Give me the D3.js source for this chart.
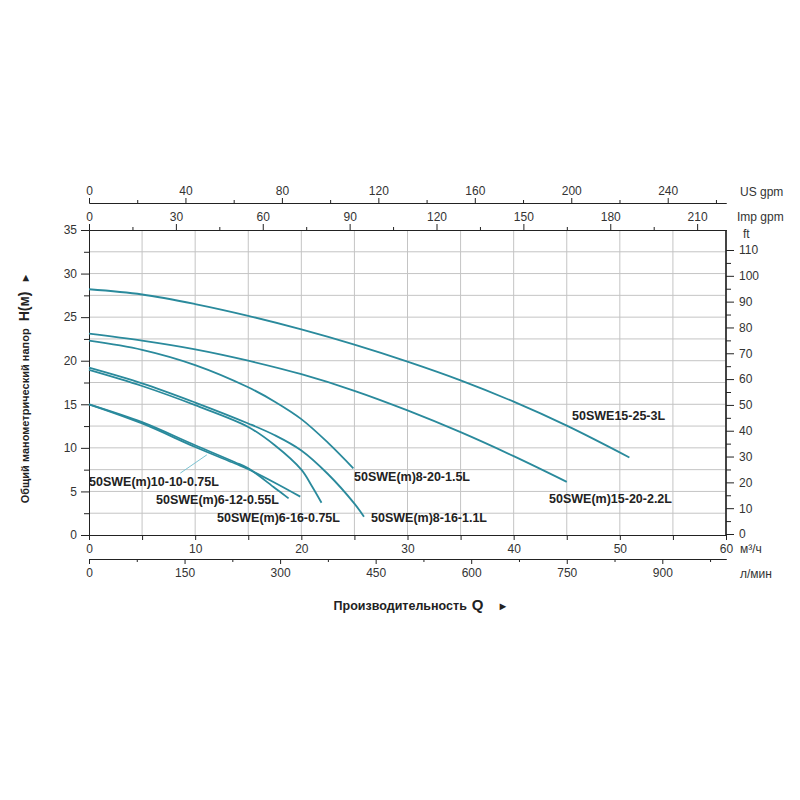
<!DOCTYPE html>
<html>
<head>
<meta charset="utf-8">
<script src="https://cdn.jsdelivr.net/npm/d3@7"></script>
<style>
  body { margin: 0; background: #fff; }
  text { font-family: "Liberation Sans", Arial, sans-serif; }
</style>
</head>
<body>
<script>
// pump curves, Q in m3/h, H in m
var q_15_25 = [0, 5, 10, 15, 20, 25, 30, 35, 40, 45, 50.9];
var h_15_25 = [28.2, 27.6, 26.5, 25.15, 23.6, 21.85, 19.9, 17.75, 15.3, 12.55, 8.9];

var q_15_20 = [0, 5, 10, 15, 20, 25, 30, 35, 40, 45];
var h_15_20 = [23.1, 22.3, 21.3, 20.0, 18.45, 16.55, 14.3, 11.8, 9.05, 6.1];

var q_8_20 = [0, 5, 10, 15, 17.5, 20, 22.5, 24.9];
var h_8_20 = [22.3, 21.25, 19.5, 16.95, 15.3, 13.3, 10.6, 7.65];

var q_8_16 = [0, 5, 10, 15, 17.5, 20, 22.5, 25, 25.9];
var h_8_16 = [19.2, 17.4, 15.2, 12.8, 11.45, 9.7, 7.0, 3.6, 2.1];

var q_6_16 = [0, 5, 10, 15, 17.5, 20, 21, 21.9];
var h_6_16 = [18.95, 17.1, 14.9, 12.4, 10.3, 7.5, 5.6, 3.7];

var q_6_12 = [0, 5, 10, 13.75, 15, 17.5, 18.8];
var h_6_12 = [15.0, 12.95, 10.3, 8.35, 7.65, 5.4, 4.2];

var q_10_10 = [0, 5, 10, 13.75, 15, 17.5, 19.9];
var h_10_10 = [15.0, 12.8, 10.1, 8.2, 7.55, 6.0, 4.4];

var names = ["50SWE15-25-3L", "50SWE(m)15-20-2.2L", "50SWE(m)8-20-1.5L", "50SWE(m)8-16-1.1L",
             "50SWE(m)6-16-0.75L", "50SWE(m)6-12-0.55L", "50SWE(m)10-10-0.75L"];

// leader from the 10-10 label to its curve (Q, H)
var leaderQ = [8.6, 11.1];
var leaderH = [7.1, 9.2];

// axis ticks
var qTicks = [0, 10, 20, 30, 40, 50, 60];
var hTicks = [0, 5, 10, 15, 20, 25, 30, 35];
var ftTicks = [0, 10, 20, 30, 40, 50, 60, 70, 80, 90, 100, 110];
var lminTicks = [0, 150, 300, 450, 600, 750, 900];
var usTicks = [0, 40, 80, 120, 160, 200, 240];
var impTicks = [0, 30, 60, 90, 120, 150, 180, 210];

// unit conversions
var L_MIN = 1000 / 60, US_GPM = 4.40287, IMP_GPM = 3.66615;

var curves = [
  {name: names[0], q: q_15_25, h: h_15_25},
  {name: names[1], q: q_15_20, h: h_15_20},
  {name: names[2], q: q_8_20, h: h_8_20},
  {name: names[3], q: q_8_16, h: h_8_16},
  {name: names[4], q: q_6_16, h: h_6_16},
  {name: names[5], q: q_6_12, h: h_6_12},
  {name: names[6], q: q_10_10, h: h_10_10}
];

// label placement (pixels: left x, baseline y)
var labelPos = [[572, 420], [549, 503], [354, 481], [371, 522], [217, 522], [156, 504], [89, 486]];

var pLeft = 89, pRight = 726, pTop = 230, pBottom = 535;
var teal = "#2a8a9c";

var svg = d3.select("body").append("svg")
    .attr("width", 800)
    .attr("height", 800);

var x = d3.scaleLinear().domain([0, 60]).range([pLeft, pRight]);
var y = d3.scaleLinear().domain([0, 35]).range([pBottom, pTop]);
var xL = d3.scaleLinear().domain([0, 60 * L_MIN]).range([pLeft, pRight]);
var xUS = d3.scaleLinear().domain([0, 60 * US_GPM]).range([pLeft, pRight]);
var xImp = d3.scaleLinear().domain([0, 60 * IMP_GPM]).range([pLeft, pRight]);
// the printed ft scale is a little off the metre scale; follow the picture
var yFt = d3.scaleLinear().domain([0, 110]).range([534, 250]);

// grid
var grid = svg.append("g").attr("stroke", "#c4c4c4").attr("stroke-width", 1);
grid.selectAll("line.v")
    .data(d3.range(5, 60, 5))
    .enter().append("line")
    .attr("x1", function(d) { return x(d); })
    .attr("x2", function(d) { return x(d); })
    .attr("y1", pTop).attr("y2", pBottom);
grid.selectAll("line.h")
    .data(d3.range(2.5, 35, 2.5))
    .enter().append("line")
    .attr("y1", function(d) { return y(d); })
    .attr("y2", function(d) { return y(d); })
    .attr("x1", pLeft).attr("x2", pRight);

function styleAxis(g) {
  g.selectAll("path, line").attr("stroke", "#222");
  g.selectAll("text").attr("font-size", 12).attr("fill", "#333")
      .attr("font-family", "Liberation Sans, Arial, sans-serif");
}

// left H axis
svg.append("g").attr("transform", "translate(" + pLeft + ",0)")
    .call(d3.axisLeft(y).tickValues(d3.range(2.5, 35, 5)).tickSize(5).tickSizeOuter(0).tickFormat(""))
    .call(styleAxis);
svg.append("g").attr("transform", "translate(" + pLeft + ",0)")
    .call(d3.axisLeft(y).tickValues(hTicks).tickSize(8).tickSizeOuter(0).tickPadding(4))
    .call(styleAxis);

// right ft axis
svg.append("line")
    .attr("x1", pRight).attr("x2", pRight)
    .attr("y1", pTop).attr("y2", pBottom)
    .attr("stroke", "#444").attr("stroke-width", 2);
svg.append("g").attr("transform", "translate(" + pRight + ",0)")
    .call(d3.axisRight(yFt).tickValues(d3.range(5, 115, 10)).tickSize(5).tickSizeOuter(0).tickFormat(""))
    .call(styleAxis)
    .call(function(g) { g.select(".domain").remove(); });
svg.append("g").attr("transform", "translate(" + pRight + ",0)")
    .call(d3.axisRight(yFt).tickValues(ftTicks).tickSize(8).tickSizeOuter(0).tickPadding(5))
    .call(styleAxis)
    .call(function(g) { g.select(".domain").remove(); });

// bottom m3/h axis
svg.append("g").attr("transform", "translate(0," + pBottom + ")")
    .call(d3.axisBottom(x).tickValues(d3.range(0, 61, 5)).tickSize(5).tickSizeOuter(0).tickPadding(4)
      .tickFormat(function(d) { return d % 10 === 0 ? d : ""; }))
    .call(styleAxis);

// l/min axis
svg.append("g").attr("transform", "translate(0,559)")
    .call(d3.axisBottom(xL).tickValues(d3.range(75, 1000, 150)).tickSize(3).tickSizeOuter(0).tickFormat(""))
    .call(styleAxis);
svg.append("g").attr("transform", "translate(0,559)")
    .call(d3.axisBottom(xL).tickValues(lminTicks).tickSize(5).tickSizeOuter(0).tickPadding(4))
    .call(styleAxis);

// Imp gpm axis (top of the plot)
svg.append("g").attr("transform", "translate(0," + pTop + ")")
    .call(d3.axisTop(xImp).tickValues(d3.range(15, 220, 30)).tickSize(3).tickSizeOuter(0).tickFormat(""))
    .call(styleAxis);
svg.append("g").attr("transform", "translate(0," + pTop + ")")
    .call(d3.axisTop(xImp).tickValues(impTicks).tickSize(6).tickSizeOuter(0).tickPadding(3))
    .call(styleAxis);

// US gpm axis
svg.append("g").attr("transform", "translate(0,203)")
    .call(d3.axisTop(xUS).tickValues(d3.range(20, 264, 40)).tickSize(3).tickSizeOuter(0).tickFormat(""))
    .call(styleAxis);
svg.append("g").attr("transform", "translate(0,203)")
    .call(d3.axisTop(xUS).tickValues(usTicks).tickSize(5).tickSizeOuter(0).tickPadding(3))
    .call(styleAxis);

// unit labels
var units = [["US gpm", 740, 196], ["Imp gpm", 737, 221], ["ft", 743, 238], ["м³/ч", 740, 553], ["л/мин", 740, 578]];
svg.selectAll("text.unit")
    .data(units)
    .enter().append("text")
    .attr("class", "unit")
    .attr("x", function(d) { return d[1]; })
    .attr("y", function(d) { return d[2]; })
    .attr("font-size", 12)
    .attr("fill", "#333")
    .text(function(d) { return d[0]; });

// curves
var line = d3.line()
    .x(function(d) { return x(d[0]); })
    .y(function(d) { return y(d[1]); })
    .curve(d3.curveCatmullRom.alpha(0.5));

svg.selectAll("path.curve")
    .data(curves)
    .enter().append("path")
    .attr("class", "curve")
    .attr("fill", "none")
    .attr("stroke", teal)
    .attr("stroke-width", 1.8)
    .attr("d", function(c) { return line(d3.zip(c.q, c.h)); });

// leader line
svg.append("path")
    .attr("fill", "none")
    .attr("stroke", "#7cc3d2")
    .attr("stroke-width", 1)
    .attr("d", d3.line().x(function(d) { return x(d[0]); }).y(function(d) { return y(d[1]); })(d3.zip(leaderQ, leaderH)));

// curve labels
svg.selectAll("text.lbl")
    .data(curves)
    .enter().append("text")
    .attr("class", "lbl")
    .attr("x", function(c, i) { return labelPos[i][0]; })
    .attr("y", function(c, i) { return labelPos[i][1]; })
    .attr("font-size", 12.5)
    .attr("font-weight", "bold")
    .attr("fill", "#222")
    .text(function(c) { return c.name; });

// y title
var yt = svg.append("text")
    .attr("transform", "translate(29,388) rotate(-90)")
    .attr("text-anchor", "middle")
    .attr("fill", "#222");
yt.append("tspan").attr("font-size", 11).attr("font-weight", "bold").text("Общий манометрический напор ");
yt.append("tspan").attr("font-size", 14).attr("font-weight", "bold").attr("dx", 4).text("H(м)");
yt.append("tspan").attr("font-size", 11).attr("dx", 8).text("►");

// x title
var xt = svg.append("text")
    .attr("x", 421)
    .attr("y", 610)
    .attr("text-anchor", "middle")
    .attr("fill", "#222");
xt.append("tspan").attr("font-size", 12.5).attr("font-weight", "bold").text("Производительность");
xt.append("tspan").attr("font-size", 15).attr("font-weight", "bold").attr("dx", 5).text("Q");
xt.append("tspan").attr("font-size", 11).attr("dx", 14).text("►");
</script>
</body>
</html>
